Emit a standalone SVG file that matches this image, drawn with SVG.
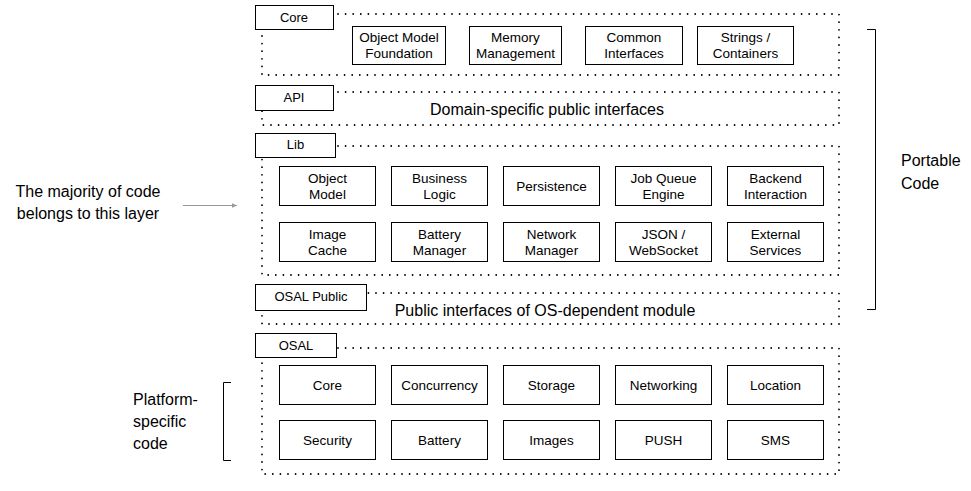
<svg xmlns="http://www.w3.org/2000/svg" width="971" height="491" viewBox="0 0 971 491">
<style>
text{font-family:"Liberation Sans",Arial,sans-serif;fill:#000}
.b{fill:#fff;stroke:#000;stroke-width:1}
.d{fill:none;stroke:#000;stroke-width:1.8;stroke-dasharray:0 7.6;stroke-linecap:round}
.t{font-size:13.5px;text-anchor:middle}
.l{font-size:13px;text-anchor:middle}
.big{font-size:16px}
.c{text-anchor:middle}
.br{fill:none;stroke:#000;stroke-width:1}
</style>
<defs>
<marker id="ah" markerWidth="6" markerHeight="6" refX="5" refY="3" orient="auto" markerUnits="userSpaceOnUse"><path d="M0,0.8 L5,3 L0,5.2 z" fill="#999"/></marker>
</defs>
<g id="layer-core">
<rect class="d" x="262" y="14" width="577" height="61"/>
<rect class="b" x="255.5" y="5.5" width="78" height="24"/><text class="l" x="294" y="22">Core</text>
<g id="core-omf"><rect class="b" x="352.5" y="26.5" width="93" height="38"/><text class="t" x="399" y="42">Object Model</text><text class="t" x="399" y="58">Foundation</text></g>
<g id="core-mm"><rect class="b" x="469.5" y="26.5" width="92" height="38"/><text class="t" x="515.5" y="42">Memory</text><text class="t" x="515.5" y="58">Management</text></g>
<g id="core-ci"><rect class="b" x="585.5" y="26.5" width="97" height="38"/><text class="t" x="634" y="42">Common</text><text class="t" x="634" y="58">Interfaces</text></g>
<g id="core-sc"><rect class="b" x="697.5" y="26.5" width="96" height="38"/><text class="t" x="745.5" y="42">Strings /</text><text class="t" x="745.5" y="58">Containers</text></g>
</g>
<g id="layer-api">
<rect class="d" x="262" y="92" width="577" height="33"/>
<rect class="b" x="255.5" y="85.5" width="78" height="25"/><text class="l" x="294" y="102">API</text>
<text class="big c" x="547" y="115">Domain-specific public interfaces</text>
</g>
<g id="layer-lib">
<rect class="d" x="262" y="146" width="577" height="129"/>
<rect class="b" x="255.5" y="133.5" width="80" height="24"/><text class="l" x="295.5" y="149">Lib</text>
<g id="lib-om"><rect class="b" x="279.5" y="166.5" width="96" height="39"/><text class="t" x="327.5" y="183">Object</text><text class="t" x="327.5" y="199">Model</text></g>
<g id="lib-bl"><rect class="b" x="391.5" y="166.5" width="96" height="39"/><text class="t" x="439.5" y="183">Business</text><text class="t" x="439.5" y="199">Logic</text></g>
<g id="lib-p"><rect class="b" x="503.5" y="166.5" width="96" height="39"/><text class="t" x="551.5" y="191">Persistence</text></g>
<g id="lib-jq"><rect class="b" x="615.5" y="166.5" width="96" height="39"/><text class="t" x="663.5" y="183">Job Queue</text><text class="t" x="663.5" y="199">Engine</text></g>
<g id="lib-bi"><rect class="b" x="727.5" y="166.5" width="96" height="39"/><text class="t" x="775.5" y="183">Backend</text><text class="t" x="775.5" y="199">Interaction</text></g>
<g id="lib-ic"><rect class="b" x="279.5" y="222.5" width="96" height="39"/><text class="t" x="327.5" y="239">Image</text><text class="t" x="327.5" y="255">Cache</text></g>
<g id="lib-bm"><rect class="b" x="391.5" y="222.5" width="96" height="39"/><text class="t" x="439.5" y="239">Battery</text><text class="t" x="439.5" y="255">Manager</text></g>
<g id="lib-nm"><rect class="b" x="503.5" y="222.5" width="96" height="39"/><text class="t" x="551.5" y="239">Network</text><text class="t" x="551.5" y="255">Manager</text></g>
<g id="lib-js"><rect class="b" x="615.5" y="222.5" width="96" height="39"/><text class="t" x="663.5" y="239">JSON /</text><text class="t" x="663.5" y="255">WebSocket</text></g>
<g id="lib-es"><rect class="b" x="727.5" y="222.5" width="96" height="39"/><text class="t" x="775.5" y="239">External</text><text class="t" x="775.5" y="255">Services</text></g>
</g>
<g id="layer-osal-public">
<rect class="d" x="262" y="293" width="577" height="31"/>
<rect class="b" x="255.5" y="284.5" width="111" height="26"/><text class="l" x="311" y="301">OSAL Public</text>
<text class="big c" x="545" y="316">Public interfaces of OS-dependent module</text>
</g>
<g id="layer-osal">
<rect class="d" x="262" y="348" width="577" height="126"/>
<rect class="b" x="255.5" y="333.5" width="81" height="24"/><text class="l" x="296" y="350">OSAL</text>
<g id="osal-core"><rect class="b" x="279.5" y="365.5" width="96" height="39"/><text class="t" x="327.5" y="390">Core</text></g>
<g id="osal-conc"><rect class="b" x="391.5" y="365.5" width="96" height="39"/><text class="t" x="439.5" y="390">Concurrency</text></g>
<g id="osal-stor"><rect class="b" x="503.5" y="365.5" width="96" height="39"/><text class="t" x="551.5" y="390">Storage</text></g>
<g id="osal-net"><rect class="b" x="615.5" y="365.5" width="96" height="39"/><text class="t" x="663.5" y="390">Networking</text></g>
<g id="osal-loc"><rect class="b" x="727.5" y="365.5" width="96" height="39"/><text class="t" x="775.5" y="390">Location</text></g>
<g id="osal-sec"><rect class="b" x="279.5" y="420.5" width="96" height="39"/><text class="t" x="327.5" y="445">Security</text></g>
<g id="osal-bat"><rect class="b" x="391.5" y="420.5" width="96" height="39"/><text class="t" x="439.5" y="445">Battery</text></g>
<g id="osal-img"><rect class="b" x="503.5" y="420.5" width="96" height="39"/><text class="t" x="551.5" y="445">Images</text></g>
<g id="osal-push"><rect class="b" x="615.5" y="420.5" width="96" height="39"/><text class="t" x="663.5" y="445">PUSH</text></g>
<g id="osal-sms"><rect class="b" x="727.5" y="420.5" width="96" height="39"/><text class="t" x="775.5" y="445">SMS</text></g>
</g>
<g id="portable">
<path class="br" d="M867,29.5 H875.5 V309.5 H867"/>
<text class="big" x="901" y="166">Portable</text>
<text class="big" x="901" y="189">Code</text>
</g>
<g id="platform">
<path class="br" d="M231,382.5 H223.5 V460.5 H231"/>
<text class="big" x="133" y="405">Platform-</text>
<text class="big" x="133" y="427">specific</text>
<text class="big" x="133" y="449">code</text>
</g>
<g id="majority">
<text class="big c" x="88" y="197">The majority of code</text>
<text class="big c" x="88" y="219">belongs to this layer</text>
</g>
<g id="connectors">
<line x1="183" y1="205.5" x2="237" y2="205.5" stroke="#999" stroke-width="1" marker-end="url(#ah)"/>
</g>
</svg>
